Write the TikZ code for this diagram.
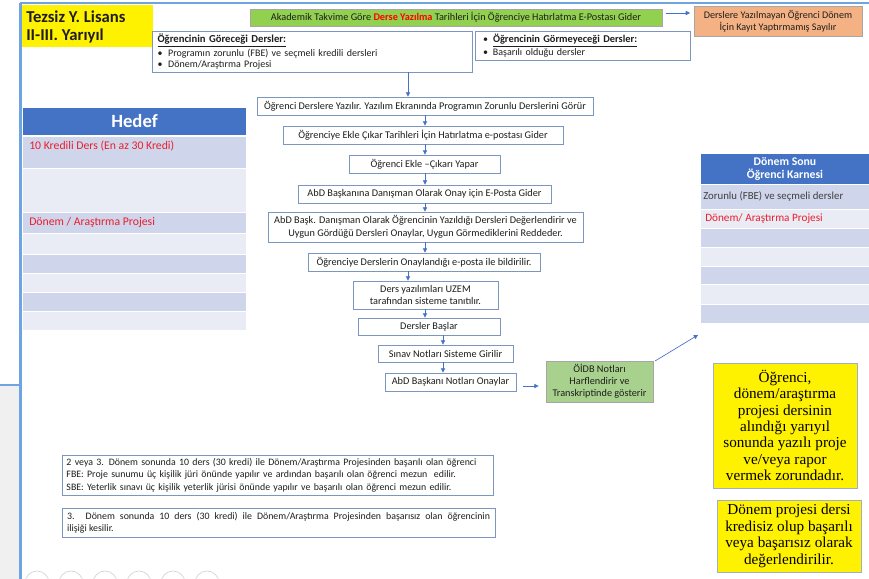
\documentclass[tikz,border=0pt]{standalone}
\usepackage{fontspec}
\setmainfont{Carlito}
\newfontfamily\tnr{Liberation Serif}
\usetikzlibrary{arrows.meta}
\definecolor{frameblue}{RGB}{110,165,225}
\definecolor{boxline}{RGB}{125,150,190}
\definecolor{arrblue}{RGB}{68,114,196}
\definecolor{hdrblue}{RGB}{68,114,196}
\definecolor{rowdark}{RGB}{207,213,234}
\definecolor{rowlight}{RGB}{233,235,245}
\definecolor{redtxt}{RGB}{235,30,45}
\definecolor{greentop}{RGB}{146,208,80}
\definecolor{greenbox}{RGB}{169,209,142}
\definecolor{salmon}{RGB}{244,177,131}
\definecolor{txt}{RGB}{30,30,30}
\definecolor{greyarea}{RGB}{240,240,240}
\definecolor{ylline}{RGB}{160,175,200}
\begin{document}
\begin{tikzpicture}[x=0.75pt,y=-0.75pt,
  wh/.style 2 args={minimum width=#1*0.75pt, minimum height=#2*0.75pt},
  flow/.style={draw=boxline, line width=0.6pt, fill=white, inner sep=0pt, align=center, text=txt, font=\fontsize{7.7}{9}\selectfont},
  arr/.style={-{Triangle[length=3.2pt,width=3.2pt]}, draw=arrblue, line width=0.5pt},
  ybox/.style={draw=ylline, line width=0.6pt, fill=yellow, inner sep=0pt, align=center, text=black, font=\tnr\fontsize{11.4}{12.3}\selectfont},
  rowtxt/.style={anchor=west, inner sep=0pt, font=\fontsize{8.8}{10}\selectfont},
  hdr/.style={inner sep=0pt, align=center, text=white, font=\bfseries}
]
\useasboundingbox (0,0) rectangle (869,579);
% frame
\fill[greyarea] (0,385) rectangle (19.5,579);
\draw[frameblue, line width=0.9pt] (0,385) -- (20,385);
\draw[frameblue, line width=0.8pt] (20,3) -- (869,3);
\draw[frameblue, line width=1.6pt] (20.5,3) -- (20.5,579);
% bottom icons
\begin{scope}
\clip (21,0) rectangle (869,579);
\foreach \cx in {37,71,105,139,173,207}
  \draw[gray!35, line width=0.5pt] (\cx,583) circle (12);
\end{scope}

% title
\fill[yellow] (22,5) rectangle (153,47);
\node[anchor=west, inner sep=0pt, align=left, font=\bfseries\fontsize{12.5}{13.5}\selectfont, text=txt] (title) at (26,26.5) {Tezsiz Y. Lisans\\II-III. Yarıyıl};

% top green
\node[flow, draw=gray!70, fill=greentop, wh={412}{17}] (g1) at (456,17.5)
  {Akademik Takvime Göre \textcolor{red}{\textbf{Derse Yazılma}} Tarihleri İçin Öğrenciye Hatırlatma E-Postası Gider};
\node[flow, draw=gray!70, fill=salmon, wh={168}{30}, font=\fontsize{7.6}{9}\selectfont] (s1) at (778,21)
  {Derslere Yazılmayan Öğrenci Dönem\\İçin Kayıt Yaptırmamış Sayılır};
\coordinate (ga) at (666,13);
\coordinate (gb2) at (690,13);
\draw[arr] (ga) -- (gb2);

% info boxes
\node[flow, wh={319}{41}, align=left, text width=232.5pt, inner xsep=4pt, font=\fontsize{7.5}{8.3}\selectfont] (gb) at (312.5,51.5)
  {{\fontsize{8}{8.3}\selectfont\textbf{\underline{Öğrencinin Göreceği Dersler:}}}\\
   \makebox[8pt][l]{\textbullet}Programın zorunlu (FBE) ve seçmeli kredili dersleri\\
   \makebox[8pt][l]{\textbullet}Dönem/Araştırma Projesi};
\node[flow, wh={215}{29}, align=left, text width=149.25pt, inner xsep=6pt, font=\fontsize{7.5}{9.5}\selectfont] (gm) at (582.5,45.5)
  {\makebox[7.5pt][l]{\textbullet}{\fontsize{7.8}{9.5}\selectfont\textbf{\underline{Öğrencinin Görmeyeceği Dersler:}}}\\
   \makebox[7.5pt][l]{\textbullet}Başarılı olduğu dersler};

% flow
\node[flow, wh={336}{18}] (b1) at (425,106) {Öğrenci Derslere Yazılır. Yazılım Ekranında Programın Zorunlu Derslerini Görür};
\node[flow, wh={280}{18}] (b2) at (423,135) {Öğrenciye Ekle Çıkar Tarihleri İçin Hatırlatma e-postası Gider};
\node[flow, wh={151}{18}] (b3) at (424.5,164) {Öğrenci Ekle –Çıkarı Yapar};
\node[flow, wh={253}{18}] (b4) at (424.5,194) {AbD Başkanına Danışman Olarak Onay için E-Posta Gider};
\node[flow, wh={315}{30}, font=\fontsize{7.7}{9.8}\selectfont] (b5) at (425.5,227) {AbD Başk. Danışman Olarak Öğrencinin Yazıldığı Dersleri Değerlendirir ve\\Uygun Gördüğü Dersleri Onaylar, Uygun Görmediklerini Reddeder.};
\node[flow, wh={232}{18}] (b6) at (424,262) {Öğrenciye Derslerin Onaylandığı e-posta ile bildirilir.};
\node[flow, wh={145}{28}, font=\fontsize{7.7}{8.6}\selectfont] (b7) at (425.5,295) {Ders yazılımları UZEM\\tarafından sisteme tanıtılır.};
\node[flow, wh={142}{17}] (b8) at (429,326.5) {Dersler Başlar};
\node[flow, wh={135}{17}] (b9) at (445.5,353.5) {Sınav Notları Sisteme Girilir};
\node[flow, wh={131}{18}] (b10) at (450.5,382) {AbD Başkanı Notları Onaylar};
\node[flow, draw=gray!70, fill=greenbox, wh={107}{41}, font=\fontsize{7.7}{9}\selectfont] (o1) at (599.5,381.5) {ÖİDB Notları\\Harflendirir ve\\Transkriptinde gösterir};

\coordinate (x408) at (408,0);
\coordinate (x425) at (425,0);
\coordinate (x443) at (443,0);
\draw[arr] (gb.south -| x408) -- (b1.north -| x408);
\draw[arr] (b1.south -| x425) -- (b2.north -| x425);
\draw[arr] (b2.south -| x425) -- (b3.north -| x425);
\draw[arr] (b3.south -| x425) -- (b4.north -| x425);
\draw[arr] (b4.south -| x425) -- (b5.north -| x425);
\draw[arr] (b5.south -| x425) -- (b6.north -| x425);
\draw[arr] (b6.south -| x408) -- (b7.north -| x408);
\draw[arr] (b7.south -| x425) -- (b8.north -| x425);
\draw[arr] (b8.south -| x443) -- (b9.north -| x443);
\draw[arr] (b9.south -| x443) -- (b10.north -| x443);
\coordinate (ya) at (0,386);
\draw[arr] ([xshift=5.25pt]b10.east |- ya) -- ([xshift=-5.25pt]o1.west |- ya);
\coordinate (dg1) at (655,361);
\coordinate (dg2) at (698,335);
\draw[arr] (dg1) -- (dg2);

% Hedef table
\fill[hdrblue] (23,108) rectangle (246,135);
\node[hdr, font=\bfseries\fontsize{14}{16}\selectfont] (hedef) at (134.5,121.5) {Hedef};
\foreach \a/\b/\c in {137/168/rowdark,169/212/rowlight,213/233/rowdark,234/254/rowlight,255/273/rowdark,274/292/rowlight,293/311/rowdark,312/330/rowlight}
  \fill[\c] (23,\a) rectangle (246,\b);
\node[rowtxt, text=redtxt] (h1) at (29,146) {10 Kredili Ders (En az 30 Kredi)};
\node[rowtxt, text=redtxt] (h2) at (29,222.5) {Dönem / Araştırma Projesi};

% Karne table
\fill[hdrblue] (701,154) rectangle (869,184);
\node[hdr, font=\bfseries\fontsize{8.8}{9.9}\selectfont] (karne) at (785,169) {Dönem Sonu\\Öğrenci Karnesi};
\foreach \a/\b/\c in {185/209/rowdark,210/228/rowlight,229/247/rowdark,248/266/rowlight,267/284/rowdark,285/304/rowlight,305/323/rowdark}
  \fill[\c] (701,\a) rectangle (869,\b);
\node[rowtxt, text=black!75, font=\fontsize{8.1}{9}\selectfont] (k1) at (703,196.5) {Zorunlu (FBE) ve seçmeli dersler};
\node[rowtxt, text=redtxt, font=\fontsize{8.4}{9}\selectfont] (k2) at (705,219) {Dönem/ Araştırma Projesi};

% yellow notes
\node[ybox, wh={144}{125}] (y1) at (785,425.5) {Öğrenci,\\dönem/araştırma\\projesi dersinin\\alındığı yarıyıl\\sonunda yazılı proje\\ve/veya rapor\\vermek zorundadır.};
\node[ybox, wh={144}{72}, font=\tnr\fontsize{11.4}{12.5}\selectfont] (y2) at (789,536) {Dönem projesi dersi\\kredisiz olup başarılı\\veya başarısız olarak\\değerlendirilir.};

% bottom text boxes
\node[flow, wh={431}{40}, align=left, text width=316.5pt, inner xsep=3.4pt, font=\fontsize{7.4}{9.3}\selectfont] (t1) at (277.5,475)
  {2 veya 3. Dönem sonunda 10 ders (30 kredi) ile Dönem/Araştırma Projesinden başarılı olan öğrenci\\
   FBE: Proje sunumu üç kişilik jüri önünde yapılır ve ardından başarılı olan öğrenci mezun\ \ edilir.\\
   SBE: Yeterlik sınavı üç kişilik yeterlik jürisi önünde yapılır ve başarılı olan öğrenci mezun edilir.};
\node[flow, wh={433}{29}, align=justify, text width=317.25pt, inner xsep=3.75pt, font=\fontsize{7.4}{9.3}\selectfont] (t2) at (278.5,522.5)
  {3. Dönem sonunda 10 ders (30 kredi) ile Dönem/Araştırma Projesinden başarısız olan öğrencinin\linebreak ilişiği kesilir.};
\end{tikzpicture}
\end{document}
